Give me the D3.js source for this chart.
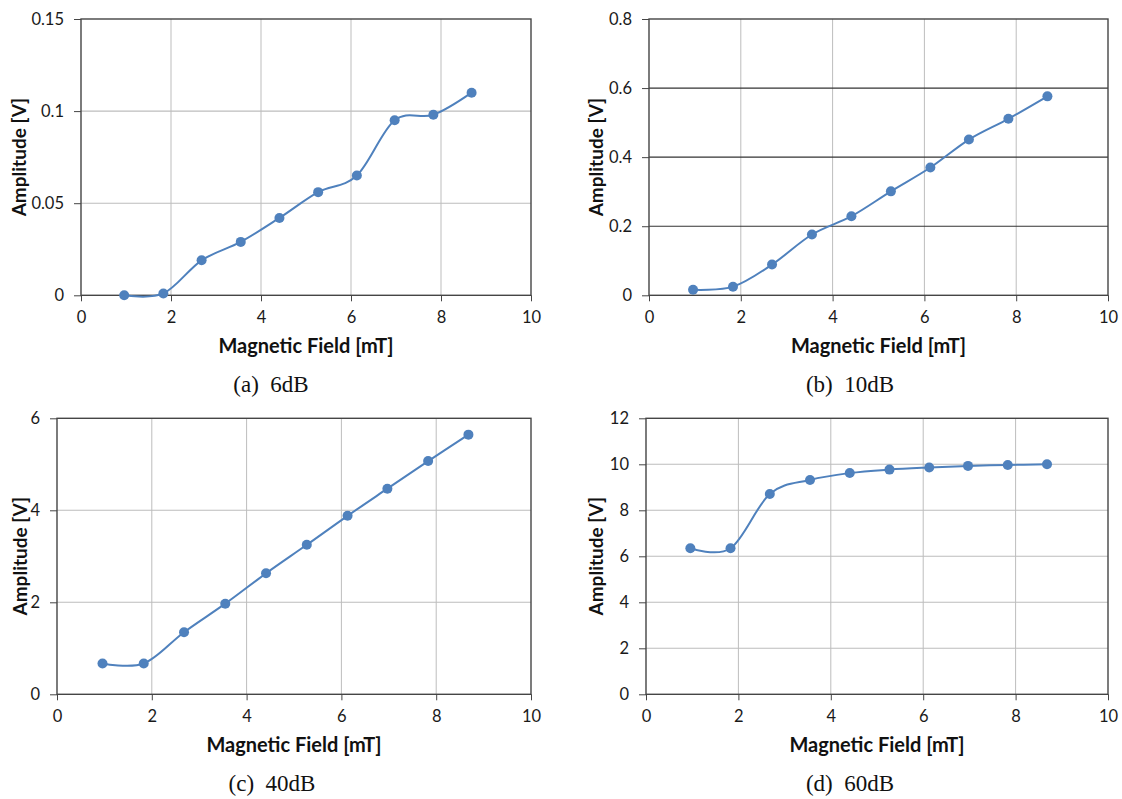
<!DOCTYPE html>
<html>
<head>
<meta charset="utf-8">
<script src="https://cdn.jsdelivr.net/npm/d3@7/dist/d3.min.js"></script>
<style>
  html, body { margin: 0; padding: 0; background: #ffffff; }
  svg { display: block; }
  .tick text { font-family: Lato, "Open Sans", sans-serif; font-size: 16.5px; fill: #1a1a1a; }
</style>
</head>
<body>
<svg id="chart" width="1122" height="799"></svg>
<script>
// ---- data ----
const fieldX = [0.96, 1.83, 2.68, 3.55, 4.41, 5.27, 6.13, 6.97, 7.83, 8.68];
const amp6dB  = [0.000, 0.001, 0.019, 0.029, 0.042, 0.056, 0.065, 0.095, 0.098, 0.110];
const amp10dB = [0.016, 0.025, 0.089, 0.176, 0.229, 0.301, 0.370, 0.451, 0.511, 0.576];
const amp40dB = [0.67, 0.67, 1.35, 1.97, 2.63, 3.25, 3.88, 4.47, 5.07, 5.645];
const amp60dB = [6.35, 6.35, 8.71, 9.32, 9.62, 9.77, 9.86, 9.93, 9.97, 10.0];

const xTicks = [0, 2, 4, 6, 8, 10];
const xTickLabels = ["0", "2", "4", "6", "8", "10"];
const yTicks6  = [0, 0.05, 0.1, 0.15];
const yLabels6 = ["0", "0.05", "0.1", "0.15"];
const yTicks10  = [0, 0.2, 0.4, 0.6, 0.8];
const yLabels10 = ["0", "0.2", "0.4", "0.6", "0.8"];
const yTicks40  = [0, 2, 4, 6];
const yLabels40 = ["0", "2", "4", "6"];
const yTicks60  = [0, 2, 4, 6, 8, 10, 12];
const yLabels60 = ["0", "2", "4", "6", "8", "10", "12"];

const captions = ["(a)  6dB", "(b)  10dB", "(c)  40dB", "(d)  60dB"];
const xTitle = "Magnetic Field [mT]";
const yTitle = "Amplitude [V]";

// ---- layout ----
const panels = [
  { box: {l: 81,  r: 531,  t: 19,    b: 295.3}, y: amp6dB,  yt: yTicks6,  yl: yLabels6,  cap: captions[0], capX: 271, yTitleX: 18.5, hGrid: "#bdbdbd" },
  { box: {l: 649, r: 1108, t: 19,    b: 295.3}, y: amp10dB, yt: yTicks10, yl: yLabels10, cap: captions[1], capX: 850, yTitleX: 596,  hGrid: "#333333" },
  { box: {l: 57,  r: 531,  t: 418.3, b: 694.3}, y: amp40dB, yt: yTicks40, yl: yLabels40, cap: captions[2], capX: 272, yTitleX: 20,   hGrid: "#bdbdbd" },
  { box: {l: 646, r: 1108, t: 418.3, b: 694.3}, y: amp60dB, yt: yTicks60, yl: yLabels60, cap: captions[3], capX: 850, yTitleX: 596,  hGrid: "#bdbdbd" }
];

const svg = d3.select("#chart");
const blue = "#4f81bd";
const borderColor = "#454545";
const vGrid = "#bdbdbd";

panels.forEach(p => {
  const B = p.box;
  const x = d3.scaleLinear().domain([0, 10]).range([B.l, B.r]);
  const y = d3.scaleLinear().domain([0, p.yt[p.yt.length - 1]]).range([B.b, B.t]);
  const g = svg.append("g");

  // gridlines
  g.selectAll(".vg").data(xTicks.slice(1, -1)).enter().append("line")
    .attr("x1", d => x(d)).attr("x2", d => x(d))
    .attr("y1", B.t).attr("y2", B.b)
    .attr("stroke", vGrid).attr("stroke-width", 1);
  g.selectAll(".hg").data(p.yt.slice(1, -1)).enter().append("line")
    .attr("x1", B.l).attr("x2", B.r)
    .attr("y1", d => y(d)).attr("y2", d => y(d))
    .attr("stroke", p.hGrid).attr("stroke-width", 1.1);

  // plot border
  g.append("rect")
    .attr("x", B.l).attr("y", B.t)
    .attr("width", B.r - B.l).attr("height", B.b - B.t)
    .attr("fill", "none").attr("stroke", borderColor).attr("stroke-width", 1.4);

  // axes
  const xAxis = d3.axisBottom(x).tickValues(xTicks)
    .tickFormat((d, i) => xTickLabels[i]).tickSize(6).tickPadding(10);
  const gx = g.append("g").attr("transform", `translate(0,${B.b})`).call(xAxis);
  gx.select(".domain").remove();
  gx.selectAll(".tick line").attr("stroke", borderColor);

  const yAxis = d3.axisLeft(y).tickValues(p.yt)
    .tickFormat((d, i) => p.yl[i]).tickSize(7).tickPadding(10);
  const gy = g.append("g").attr("transform", `translate(${B.l},0)`).call(yAxis);
  gy.select(".domain").remove();
  gy.selectAll(".tick line").attr("stroke", borderColor);

  // axis titles
  g.append("text")
    .attr("x", (B.l + B.r) / 2).attr("y", B.b + 58)
    .attr("text-anchor", "middle")
    .attr("font-family", "Lato, 'Open Sans', sans-serif")
    .attr("font-weight", "bold").attr("font-size", 20).attr("fill", "#111")
    .text(xTitle);
  g.append("text")
    .attr("transform", `translate(${p.yTitleX + 7},${(B.t + B.b) / 2}) rotate(-90)`)
    .attr("text-anchor", "middle")
    .attr("font-family", "Lato, 'Open Sans', sans-serif")
    .attr("font-weight", "bold").attr("font-size", 19).attr("fill", "#111")
    .text(yTitle);

  // line + markers
  const pts = fieldX.map((v, i) => [v, p.y[i]]);
  const line = d3.line().x(d => x(d[0])).y(d => y(d[1])).curve(d3.curveCardinal.tension(0));
  g.append("path").datum(pts)
    .attr("d", line).attr("fill", "none")
    .attr("stroke", blue).attr("stroke-width", 2);
  g.selectAll(".pt").data(pts).enter().append("circle")
    .attr("cx", d => x(d[0])).attr("cy", d => y(d[1])).attr("r", 5)
    .attr("fill", blue);

  // caption
  g.append("text")
    .attr("x", p.capX).attr("y", B.b + 97)
    .attr("text-anchor", "middle")
    .attr("font-family", "'Liberation Serif', 'DejaVu Serif', serif")
    .attr("font-size", 23).attr("fill", "#111")
    .attr("xml:space", "preserve").style("white-space", "pre")
    .text(p.cap);
});
</script>
</body>
</html>
